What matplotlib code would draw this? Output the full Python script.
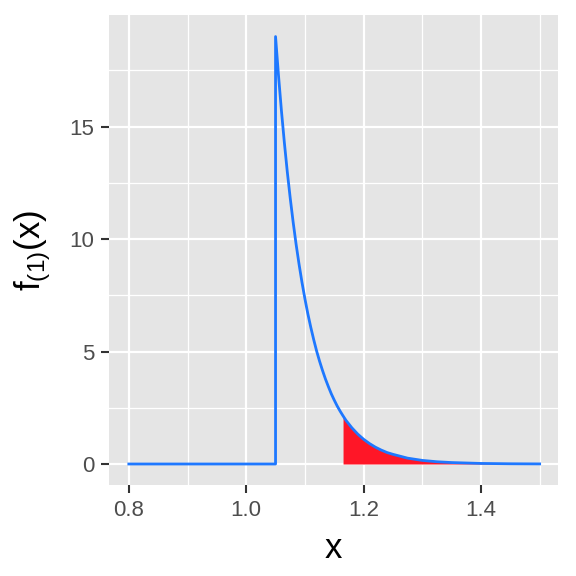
import numpy as np
import matplotlib
matplotlib.use("Agg")
import matplotlib.pyplot as plt

plt.rcParams["font.family"] = ["Liberation Sans", "DejaVu Sans"]

# density of the minimum
x_vals = [0.80, 1.05, 1.05, 1.055, 1.06, 1.065, 1.07, 1.075, 1.08, 1.085, 1.09,
          1.095, 1.10, 1.105, 1.11, 1.115, 1.12, 1.125, 1.13, 1.135, 1.14,
          1.145, 1.15, 1.155, 1.16, 1.165, 1.17, 1.18, 1.19, 1.20, 1.21,
          1.22, 1.23, 1.24, 1.25, 1.275, 1.30, 1.325, 1.35, 1.40, 1.45, 1.50]
y_vals = [0.0, 0.0, 19.0, 17.28, 15.71, 14.29, 12.99, 11.82, 10.75, 9.77, 8.89,
          8.08, 7.35, 6.68, 6.08, 5.53, 5.02, 4.57, 4.16, 3.78, 3.44,
          3.12, 2.84, 2.58, 2.35, 2.14, 1.94, 1.61, 1.33, 1.10, 0.91,
          0.75, 0.62, 0.51, 0.43, 0.26, 0.16, 0.10, 0.064, 0.025, 0.01, 0.004]
shade_from = 1.165

x_ticks = [0.8, 1.0, 1.2, 1.4]
x_minor = [0.9, 1.1, 1.3, 1.5]
y_ticks = [0, 5, 10, 15]
y_minor = [2.5, 7.5, 12.5, 17.5]

x = np.array(x_vals)
y = np.array(y_vals)

fig = plt.figure(figsize=(5.76, 5.76), dpi=100)
ax = fig.add_axes([0.189, 0.158, 0.78, 0.816])
ax.set_facecolor("#E5E5E5")
for s in ax.spines.values():
    s.set_visible(False)

# ggplot-like grid
for v in x_minor:
    ax.axvline(v, color="white", lw=0.9, zorder=0)
for v in y_minor:
    ax.axhline(v, color="white", lw=0.9, zorder=0)
for v in x_ticks:
    ax.axvline(v, color="white", lw=1.6, zorder=0)
for v in y_ticks:
    ax.axhline(v, color="white", lw=1.6, zorder=0)

m = x >= shade_from
ax.fill_between(x[m], 0, y[m], color="#FF1627", lw=0, zorder=2)
ax.plot(x, y, color="#1E78FF", lw=2.0, zorder=3)

ax.set_xlim(0.766, 1.5315)
ax.set_ylim(-0.933, 19.96)
ax.set_xticks(x_ticks)
ax.set_xticklabels(["0.8", "1.0", "1.2", "1.4"])
ax.set_yticks(y_ticks)
ax.tick_params(axis="both", length=5.5, width=1.5, color="#333333",
               labelcolor="#4D4D4D", labelsize=16, pad=5)

ax.set_xlabel("x", fontsize=25, labelpad=8)
ax.set_ylabel(r"$\mathregular{f_{(1)}(x)}$", fontsize=25, labelpad=12)

plt.savefig("out.png", dpi=100)
